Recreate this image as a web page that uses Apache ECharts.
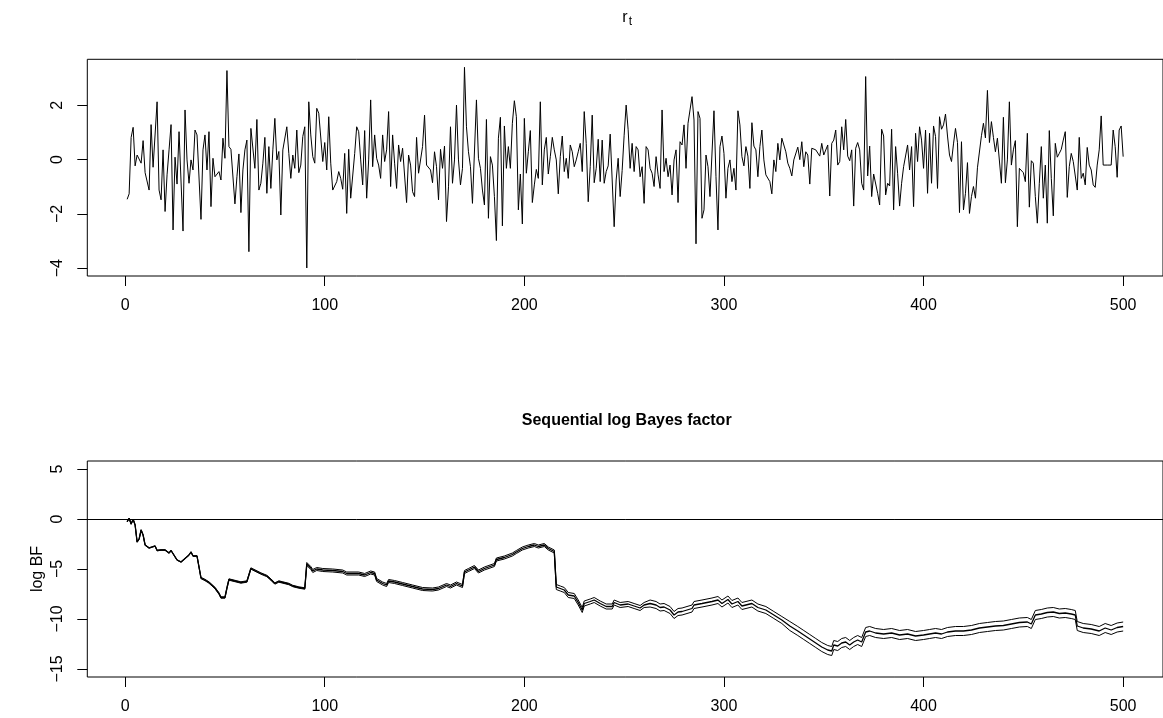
<!DOCTYPE html>
<html>
<head>
<meta charset="utf-8">
<script src="https://cdn.jsdelivr.net/npm/echarts@6/dist/echarts.min.js"></script>
<style>
html,body{margin:0;padding:0;background:#fff;}
#chart{width:1163px;height:718px;}
</style>
</head>
<body>
<div id="chart"></div>
<script>
// ---- tick labels ----
const xTicks = [0, 100, 200, 300, 400, 500];
const rtTicks = [-4, -2, 0, 2];
const bfTicks = [-15, -10, -5, 0, 5];

// ---- r_t series (t = 1..500) ----
const rt001_072 = [-1.46,-1.26,0.82,1.19,-0.23,0.17,0.21,-0.13,0.70,-0.48,
-0.53,-1.12,1.29,-0.28,-0.26,2.13,-1.12,-1.48,0.36,-1.91,
-0.56,0.36,1.29,-2.59,0.09,-0.90,1.03,0.97,-2.63,1.83,
-0.01,-0.87,-0.01,-0.38,1.09,0.91,0.97,-2.20,0.36,0.91,
-0.38,1.03,-1.73,0.05,-0.63,-0.60,-0.44,-0.75,0.79,0.05,
3.28,0.48,0.38,0.42,-1.63,-0.63,0.21,-1.95,-0.38,0.36,
0.72,-3.39,1.15,1.09,-0.32,1.48,-1.12,-0.87,-0.13,0.82,
-1.24,0.48];
const rt073_162 = [-1.06,0.36,1.52,-0.01,0.30,-2.04,0.36,0.36,
1.21,0.23,-0.69,0.17,-0.32,1.09,-0.48,-0.20,0.85,1.21,
-3.99,2.13,0.91,0.11,-0.13,1.89,1.71,1.73,-0.07,0.63,
-0.38,1.58,-0.13,-1.12,-1.06,-0.81,-0.44,-0.69,-1.09,0.23,
-1.98,0.38,-1.42,-1.42,0.23,1.21,1.03,-0.01,-0.93,1.07,
-1.42,-0.01,2.20,-0.26,0.91,0.05,-0.20,-0.69,0.91,-0.07,
0.36,1.77,-0.99,0.91,-0.13,-1.06,0.54,-0.07,0.42,0.42,
-1.58,0.17,-0.20,-1.18,-1.36,0.82,-0.50,-0.50,0.48,1.64,
-0.20,-0.26,-0.38,-0.85,0.29,-0.26,-1.48,0.38,-0.32,0.50,
-2.28,-1.00];
const rt163_252 = [1.21,-0.87,-0.01,2.01,-0.01,-0.93,-0.32,3.40,
1.21,0.29,-0.26,-1.61,-1.61,2.20,0.05,-0.32,-1.12,-1.67,
1.48,-2.16,0.11,-0.20,-1.36,-2.98,0.79,1.56,-2.44,1.24,
-0.32,0.48,-0.32,1.34,2.17,1.58,-1.85,-0.53,-2.37,1.52,
-0.50,0.29,1.07,-1.58,-0.93,-0.36,-0.69,2.13,-0.93,0.36,
0.82,-0.53,0.11,0.82,0.36,-0.01,-1.26,0.11,0.87,-0.44,
0.05,-0.69,0.54,0.29,-0.26,-0.01,0.29,0.60,-0.44,1.77,
0.60,-1.55,-0.26,1.64,-0.85,-0.32,0.75,-0.81,0.72,-0.87,
-0.44,-0.23,0.94,-0.75,-2.47,-0.75,0.05,-1.36,-0.40,0.90,
2.01,1.10];
const rt253_341 = [-0.32,0.60,-0.44,0.48,0.36,-0.63,-0.26,-1.61,
0.48,0.36,-0.32,-0.50,-0.99,0.11,-0.56,-1.06,1.83,-0.44,
0.05,-0.63,-0.20,-1.30,-0.01,0.36,-1.58,0.66,0.54,1.28,
-0.32,1.34,1.83,2.32,1.46,-3.10,1.77,1.52,-2.16,-1.85,
0.17,-0.26,-1.36,-1.39,1.80,-0.63,-2.59,0.48,0.87,0.23,
-1.42,-0.32,-0.01,-0.81,-0.32,-1.12,1.80,1.28,0.11,-0.23,
0.48,0.13,-1.06,1.36,0.50,0.36,-0.63,0.48,1.09,-0.01,
-0.56,-0.50,-0.81,-1.26,-0.01,-0.44,0.60,-0.01,0.79,0.85,
0.29,-0.13,-0.32,-0.60,-0.01,-0.07,0.46,0.00,0.66,-0.26,
0.29];
const rt342_432 = [0.17,-0.90,0.42,0.48,0.36,0.33,0.13,0.60,0.17,
0.17,0.54,-1.34,0.60,0.72,1.09,-0.20,-0.07,1.21,0.36,
1.48,0.13,-0.04,0.36,-1.71,0.42,0.63,0.36,-0.87,-1.12,
3.06,-0.60,0.50,-1.36,-0.53,-0.48,-1.24,-1.67,1.12,0.87,
-1.30,-0.87,-0.97,1.12,-1.85,0.48,-0.50,-1.71,-0.87,-0.26,
-0.23,0.54,-0.38,0.48,-1.73,0.97,-0.07,1.21,0.72,-0.32,
1.09,-1.24,0.97,-0.87,1.24,0.85,-1.06,1.58,1.12,1.28,
1.68,0.87,0.17,-0.07,0.58,1.15,0.63,-1.95,0.66,-1.85,
-1.24,-0.11,-1.98,-1.36,-0.99,-1.42,-0.30,-0.28,0.88,1.34,
0.80,2.55];
const rt433_500 = [0.63,1.40,0.82,0.29,0.79,0.82,-0.87,1.56,
-0.85,-0.01,2.13,-0.20,0.36,0.70,-2.47,-0.32,-0.38,-0.48,
-0.81,0.97,-1.75,-0.04,-0.13,-1.36,-2.34,-0.87,0.48,-1.42,
-0.20,-2.34,1.07,-0.69,-2.07,0.60,0.09,0.23,0.38,0.72,
1.03,-1.39,-0.26,0.23,-0.07,-0.01,-1.12,0.82,-0.69,-0.50,
-0.93,0.45,-0.20,-0.38,-0.93,-1.02,-0.20,0.36,1.61,-0.20,
-0.26,-0.20,-0.13,-0.20,1.09,0.48,-0.65,1.09,1.24,0.11];
const rt = [].concat(rt001_072, rt073_162, rt163_252, rt253_341, rt342_432, rt433_500);

// ---- sequential log Bayes factor (three curves), read at these t ----
const bfX = [1,2,3,4,5,6,7,8,9,10,12,13,15,16,18,20,21,22,23,24,26,28,30,32,33,34,36,37,
38,40,42,43,45,47,48,50,51,52,53,56,58,61,62,63,64,68,71,73,75,77,79,82,84,87,90,
91,93,94,96,99,104,109,111,112,117,120,123,125,126,129,131,132,135,139,144,149,154,157,161,163,166,167,169,170,172,175,177,180,185,186,187,190,194,196,199,202,205,207,208,210,212,215,
216,218,220,222,223,225,227,229,230,233,235,238,241,244,245,248,252,255,258,260,
263,266,268,270,273,275,277,279,284,285,289,294,297,299,302,304,307,309,314,317,321,325,329,
333,337,340,343,346,349,352,354,355,357,359,361,363,365,367,369,370,371,373,376,380,384,388,392,396,400,403,406,409,412,416,420,424,428,432,436,440,444,448,452,454,456,459,462,465,468,471,474,476,477,480,484,488,491,494,497,500];
const bfMid = [-0.27,0.07,-0.5,-0.03,-0.6,-2.3,-2.0,-1.1,-1.6,-2.6,-2.9,-3.1,-2.7,-3.15,-3.1,-3.1,-3.0,-3.4,-3.15,-2.95,-4.1,-4.3,-3.95,-3.6,-3.3,-3.7,-3.7,-3.6,
-5.9,-6.1,-6.35,-6.25,-6.9,-7.45,-7.85,-7.85,-6.9,-6.05,-6.15,-6.25,-6.35,-6.25,-6.45,-4.95,-5.1,-5.45,-5.7,-6.05,-6.45,-6.25,-6.35,-6.5,-6.7,-6.85,-6.95,
-4.5,-4.9,-5.2,-5.0,-5.1,-5.15,-5.25,-5.45,-5.3,-5.45,-5.6,-5.35,-5.45,-6.1,-6.45,-6.6,-6.2,-6.3,-6.5,-6.75,-7.0,-7.05,-6.95,-6.6,-6.75,-6.45,-6.6,-6.7,-5.3,-5.1,-4.8,-5.25,-4.95,-4.6,-4.05,-4.25,-3.85,-3.55,-3.3,-2.95,-2.75,-2.6,-2.75,-2.65,-2.6,-2.95,-3.25,
-6.8,-6.95,-7.1,-7.6,-7.75,-7.7,-8.35,-9.1,-8.45,-8.25,-8.1,-8.45,-8.75,-8.75,-8.35,-8.6,-8.5,-8.7,-8.9,-8.6,
-8.45,-8.6,-8.85,-8.8,-9.1,-9.6,-9.3,-9.25,-8.95,-8.6,-8.45,-8.25,-8.1,-8.45,-8.05,-8.5,-8.25,-8.7,-8.45,-8.85,-9.1,-9.6,-10.1,
-10.7,-11.2,-11.6,-12.0,-12.4,-12.8,-13.1,-13.2,-12.6,-12.7,-12.4,-12.3,-12.6,-12.3,-12.1,-12.3,-12.2,-11.3,-11.2,-11.4,-11.5,-11.4,-11.6,-11.5,-11.7,-11.6,-11.5,-11.4,-11.5,-11.3,-11.2,-11.2,-11.1,-10.9,-10.8,-10.7,-10.65,-10.5,-10.35,-10.3,-10.5,-9.6,-9.5,-9.35,-9.3,-9.45,-9.4,-9.5,-9.6,-10.7,-10.9,-11.0,-11.2,-10.9,-11.1,-10.85,-10.75];
const bfUpper = [-0.24,0.10,-0.47,0.00,-0.57,-2.27,-1.97,-1.07,-1.57,-2.57,-2.87,-3.07,-2.67,-3.12,-3.07,-3.07,-2.97,-3.37,-3.12,-2.92,-4.07,-4.27,-3.92,-3.57,-3.27,-3.67,-3.67,-3.57,
-5.83,-6.03,-6.28,-6.18,-6.83,-7.38,-7.78,-7.78,-6.83,-5.98,-6.08,-6.18,-6.28,-6.18,-6.38,-4.88,-5.03,-5.38,-5.63,-5.98,-6.38,-6.18,-6.28,-6.43,-6.63,-6.78,-6.88,
-4.35,-4.75,-5.05,-4.85,-4.95,-5.00,-5.10,-5.30,-5.15,-5.30,-5.45,-5.20,-5.30,-5.95,-6.30,-6.45,-6.05,-6.15,-6.35,-6.60,-6.85,-6.90,-6.80,-6.45,-6.60,-6.30,-6.45,-6.55,-5.15,-4.95,-4.65,-5.10,-4.80,-4.45,-3.90,-4.10,-3.70,-3.40,-3.15,-2.80,-2.60,-2.45,-2.60,-2.50,-2.45,-2.80,-3.10,
-6.55,-6.70,-6.85,-7.35,-7.50,-7.45,-8.10,-8.85,-8.20,-8.00,-7.85,-8.20,-8.50,-8.50,-8.10,-8.35,-8.25,-8.45,-8.65,-8.35,
-8.10,-8.25,-8.50,-8.45,-8.75,-9.25,-8.95,-8.90,-8.60,-8.25,-8.10,-7.90,-7.75,-8.10,-7.70,-8.15,-7.90,-8.35,-8.10,-8.50,-8.75,-9.25,-9.75,
-10.25,-10.75,-11.15,-11.55,-11.95,-12.35,-12.65,-12.75,-12.15,-12.25,-11.95,-11.85,-12.15,-11.85,-11.65,-11.85,-11.75,-10.85,-10.75,-10.95,-11.05,-10.95,-11.15,-11.05,-11.25,-11.15,-11.05,-10.95,-11.05,-10.85,-10.75,-10.75,-10.65,-10.45,-10.35,-10.25,-10.20,-10.05,-9.90,-9.85,-10.05,-9.15,-9.05,-8.90,-8.85,-9.00,-8.95,-9.05,-9.15,-10.25,-10.45,-10.55,-10.75,-10.45,-10.65,-10.40,-10.30];
const bfLower = [-0.30,0.04,-0.53,-0.06,-0.63,-2.33,-2.03,-1.13,-1.63,-2.63,-2.93,-3.13,-2.73,-3.18,-3.13,-3.13,-3.03,-3.43,-3.18,-2.98,-4.13,-4.33,-3.98,-3.63,-3.33,-3.73,-3.73,-3.63,
-5.97,-6.17,-6.42,-6.32,-6.97,-7.52,-7.92,-7.92,-6.97,-6.12,-6.22,-6.32,-6.42,-6.32,-6.52,-5.02,-5.17,-5.52,-5.77,-6.12,-6.52,-6.32,-6.42,-6.57,-6.77,-6.92,-7.02,
-4.65,-5.05,-5.35,-5.15,-5.25,-5.30,-5.40,-5.60,-5.45,-5.60,-5.75,-5.50,-5.60,-6.25,-6.60,-6.75,-6.35,-6.45,-6.65,-6.90,-7.15,-7.20,-7.10,-6.75,-6.90,-6.60,-6.75,-6.85,-5.45,-5.25,-4.95,-5.40,-5.10,-4.75,-4.20,-4.40,-4.00,-3.70,-3.45,-3.10,-2.90,-2.75,-2.90,-2.80,-2.75,-3.10,-3.40,
-7.05,-7.20,-7.35,-7.85,-8.00,-7.95,-8.60,-9.35,-8.70,-8.50,-8.35,-8.70,-9.00,-9.00,-8.60,-8.85,-8.75,-8.95,-9.15,-8.85,
-8.80,-8.95,-9.20,-9.15,-9.45,-9.95,-9.65,-9.60,-9.30,-8.95,-8.80,-8.60,-8.45,-8.80,-8.40,-8.85,-8.60,-9.05,-8.80,-9.20,-9.45,-9.95,-10.45,
-11.15,-11.65,-12.05,-12.45,-12.85,-13.25,-13.55,-13.65,-13.05,-13.15,-12.85,-12.75,-13.05,-12.75,-12.55,-12.75,-12.65,-11.75,-11.65,-11.85,-11.95,-11.85,-12.05,-11.95,-12.15,-12.05,-11.95,-11.85,-11.95,-11.75,-11.65,-11.65,-11.55,-11.35,-11.25,-11.15,-11.10,-10.95,-10.80,-10.75,-10.95,-10.05,-9.95,-9.80,-9.75,-9.90,-9.85,-9.95,-10.05,-11.15,-11.35,-11.45,-11.65,-11.35,-11.55,-11.30,-11.20];

// ---- build chart ----
const FONT = '"Liberation Sans", Arial, Helvetica, sans-serif';
const chart = echarts.init(document.getElementById('chart'), null, {renderer: 'canvas'});

const zip = (xs, ys) => xs.map((x, i) => [x, ys[i]]);
const rtData = rt.map((v, i) => [i + 1, v]);

function xAxisCfg(gi) {
  return {
    type: 'value', gridIndex: gi, position: 'bottom', min: -18.96, max: 519.96,
    axisLine: {show: false, onZero: false},
    splitLine: {show: false},
    axisTick: {show: true, inside: false, length: 10, customValues: xTicks, lineStyle: {color: '#000', width: 1}},
    axisLabel: {show: true, customValues: xTicks, color: '#000', fontSize: 16, fontFamily: FONT, margin: 22}
  };
}
function yAxisCfg(gi, mn, mx, ticks) {
  return {
    type: 'value', gridIndex: gi, position: 'left', min: mn, max: mx,
    axisLine: {show: false, onZero: false},
    splitLine: {show: false},
    axisTick: {show: true, inside: false, length: 10, customValues: ticks, lineStyle: {color: '#000', width: 1}},
    axisLabel: {show: true, customValues: ticks, rotate: 90, color: '#000', fontSize: 16, fontFamily: FONT, margin: 22,
      formatter: v => (v < 0 ? '\u2212' + Math.abs(v) : String(v))}
  };
}

const option = {
  animation: false,
  backgroundColor: '#fff',
  grid: [
    {left: 87.3, top: 59.3, width: 1079.7, height: 216.7, show: true, borderColor: '#000', borderWidth: 1, backgroundColor: 'transparent'},
    {left: 87.3, top: 461, width: 1079.7, height: 216, show: true, borderColor: '#000', borderWidth: 1, backgroundColor: 'transparent'}
  ],
  xAxis: [xAxisCfg(0), xAxisCfg(1)],
  yAxis: [yAxisCfg(0, -4.2856, 3.6956, rtTicks), yAxisCfg(1, -15.8, 5.8, bfTicks)],
  graphic: [
    {type: 'text', style: {text: 'r', x: 625, y: 17.2, font: '16px ' + FONT, fill: '#000', align: 'center', verticalAlign: 'middle'}},
    {type: 'text', style: {text: 't', x: 630.5, y: 21.8, font: '12px ' + FONT, fill: '#000', align: 'center', verticalAlign: 'middle'}},
    {type: 'text', style: {text: 'Sequential log Bayes factor', x: 626.7, y: 421, font: 'bold 16px ' + FONT, fill: '#000', align: 'center', verticalAlign: 'middle'}},
    {type: 'text', rotation: Math.PI / 2, x: 38, y: 569, style: {text: 'log BF', x: 0, y: 0, font: '16px ' + FONT, fill: '#000', align: 'center', verticalAlign: 'middle'}}
  ],
  series: [
    {type: 'line', name: 'r_t', xAxisIndex: 0, yAxisIndex: 0, data: rtData, symbol: 'none',
      lineStyle: {color: '#000', width: 1}, clip: true},
    {type: 'line', name: 'upper', xAxisIndex: 1, yAxisIndex: 1, data: zip(bfX, bfUpper), symbol: 'none',
      lineStyle: {color: '#000', width: 1}, clip: true,
      markLine: {silent: true, symbol: 'none', label: {show: false}, lineStyle: {color: '#000', width: 1, type: 'solid'}, data: [{yAxis: 0}]}},
    {type: 'line', name: 'median', xAxisIndex: 1, yAxisIndex: 1, data: zip(bfX, bfMid), symbol: 'none',
      lineStyle: {color: '#000', width: 1.3}, clip: true},
    {type: 'line', name: 'lower', xAxisIndex: 1, yAxisIndex: 1, data: zip(bfX, bfLower), symbol: 'none',
      lineStyle: {color: '#000', width: 1}, clip: true}
  ]
};
chart.setOption(option);
</script>
</body>
</html>
